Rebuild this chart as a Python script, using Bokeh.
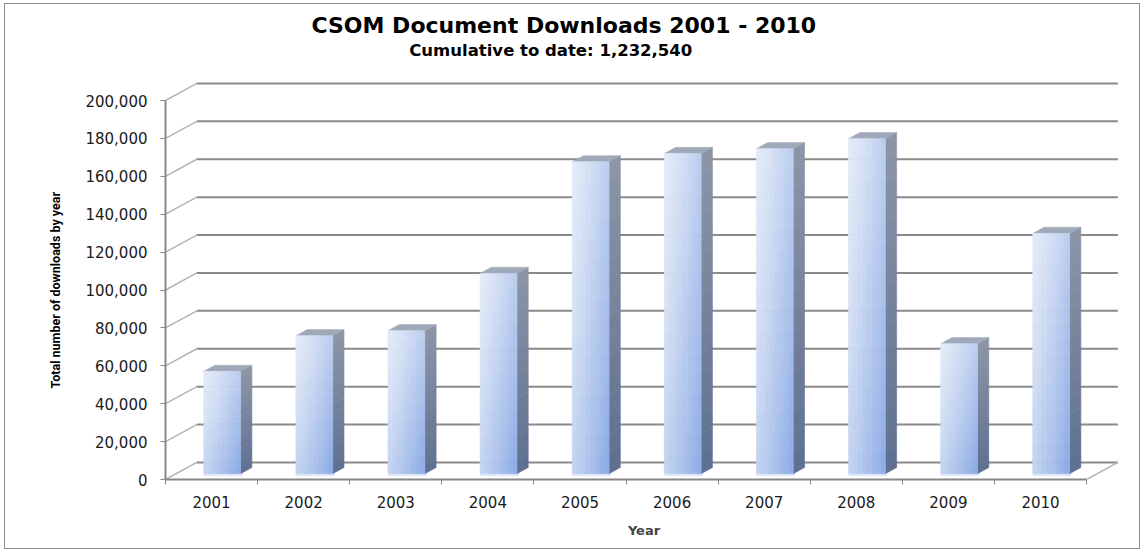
import numpy as np
from bokeh.plotting import figure
from bokeh.models import Range1d, FixedTicker, Label, ColumnDataSource, NumeralTickFormatter, Title
from bokeh.embed import file_html
from bokeh.resources import INLINE
from bokeh.core.properties import value

# ---- data ----
years = ["2001", "2002", "2003", "2004", "2005", "2006", "2007", "2008", "2009", "2010"]
downloads = [54000, 72800, 75500, 105700, 164600, 169000, 171500, 176800, 68600, 126800]
y_ticks = [0, 20000, 40000, 60000, 80000, 100000, 120000, 140000, 160000, 180000, 200000]
title_text = "CSOM Document Downloads  2001 - 2010"
subtitle_text = "Cumulative to date:  1,232,540"
x_label = "Year"
y_label = "Total number of downloads by year"

# ---- 3D geometry (style) ----
DX = 0.34        # depth offset in category units
DY = 9000        # depth offset in value units
F0, F1 = 0.34, 0.70   # bar front / back depth fraction
BAR_W = 0.40
n = len(years)
ymax = y_ticks[-1]

p = figure(width=1136, height=546, output_backend="svg", toolbar_location=None,
           x_range=Range1d(0.5, 10.89), y_range=Range1d(0, 250660),
           min_border_left=160, min_border_right=19, min_border_top=0, min_border_bottom=71)
p.margin = (3, 0, 0, 4)
p.styles = {"border": "1px solid #8c8c8c"}
p.xgrid.visible = False
p.ygrid.visible = False
p.outline_line_color = None
p.background_fill_color = "white"
p.border_fill_color = "white"

# ---- walls / gridlines ----
gx0 = [0.5] * len(y_ticks)
gy0 = list(y_ticks)
gx1 = [0.5 + DX] * len(y_ticks)
gy1 = [v + DY for v in y_ticks]
p.segment(gx0, gy0, gx1, gy1, line_color="#b4b4b4", line_width=1.5)
p.segment(gx1, gy1, [n + 0.5 + DX] * len(y_ticks), gy1, line_color="#8a8a8a", line_width=2)
p.segment([n + 0.5], [0], [n + 0.5 + DX], [DY], line_color="#b4b4b4", line_width=1.5)

# ---- bars ----
light = np.array([228, 235, 248])
dark = np.array([138, 170, 228])
side_top = np.array([140, 150, 167])
side_bot = np.array([94, 111, 145])

def hexc(c):
    c = np.clip(np.round(c), 0, 255).astype(int)
    return "#%02x%02x%02x" % tuple(c)

nx, ny = 8, 16
q = dict(left=[], right=[], bottom=[], top=[], color=[])
sxs, sys_, scol = [], [], []
txs, tys = [], []
lip = dict(left=[], right=[], bottom=[], top=[])
for i, v in enumerate(downloads):
    cx = i + 1
    xl = cx - BAR_W / 2 + F0 * DX
    xr = cx + BAR_W / 2 + F0 * DX
    yb = F0 * DY
    yt = v + F0 * DY
    lip["left"].append(xl); lip["right"].append(xr + 0.02)
    lip["bottom"].append(yb - 1400); lip["top"].append(yb + 300)
    for a in range(nx):
        for b in range(ny):
            u = (a + 0.5) / nx
            h = (b + 0.5) / ny
            t = (0.55 * u + 0.45 * (1 - h)) ** 1.3
            q["left"].append(xl + (xr - xl) * a / nx)
            q["right"].append(xl + (xr - xl) * (a + 1) / nx)
            q["bottom"].append(yb + (yt - yb) * b / ny)
            q["top"].append(yb + (yt - yb) * (b + 1) / ny)
            q["color"].append(hexc(light + (dark - light) * t))
    ddx = (F1 - F0) * DX
    ddy = (F1 - F0) * DY
    for b in range(ny):
        y_lo = yb + (yt - yb) * b / ny
        y_hi = yb + (yt - yb) * (b + 1) / ny
        sxs.append([xr, xr + ddx, xr + ddx, xr])
        sys_.append([y_lo, y_lo + ddy, y_hi + ddy, y_hi])
        h = (b + 0.5) / ny
        scol.append(hexc(side_bot + (side_top - side_bot) * h))
    txs.append([xl, xr, xr + ddx, xl + ddx])
    tys.append([yt, yt, yt + ddy, yt + ddy])

p.quad(source=ColumnDataSource(lip), left="left", right="right", bottom="bottom", top="top",
       fill_color="#e3eaf6", line_color=None)
p.patches(sxs, sys_, fill_color=scol, line_color=scol, line_width=0.6)
p.patches(txs, tys, fill_color="#a0a9b9", line_color="#a0a9b9", line_width=0.5)
p.quad(source=ColumnDataSource(q), left="left", right="right", bottom="bottom", top="top",
       fill_color="color", line_color="color", line_width=0.6)

# ---- axes ----
p.yaxis.ticker = FixedTicker(ticks=y_ticks)
p.yaxis.formatter = NumeralTickFormatter(format="0,0")
p.yaxis.bounds = (0, ymax)
p.yaxis.axis_line_color = "#878787"
p.yaxis.axis_line_width = 2
p.yaxis.major_tick_line_color = "#878787"
p.yaxis.major_tick_out = 5
p.yaxis.major_tick_in = 0
p.yaxis.minor_tick_line_color = None
p.yaxis.major_label_standoff = 13
p.yaxis.major_label_text_font = "DejaVu Sans"
p.yaxis.major_label_text_font_size = "15px"
p.yaxis.major_label_text_color = "#1a1a1a"

# y axis title placed along the value span (left panel, outside the axis)
p.add_layout(Title(text=y_label, align="left", offset=91, text_font="Roboto",
                   text_font_style="bold", text_font_size="12.5px", text_color="black",
                   standoff=40), "left")

p.xaxis.ticker = FixedTicker(ticks=list(range(1, n + 1)),
                             minor_ticks=[k + 0.5 for k in range(n + 1)])
p.xaxis.major_label_overrides = {i + 1: years[i] for i in range(n)}
p.xaxis.bounds = (0.5, n + 0.5)
p.xaxis.axis_line_color = "#878787"
p.xaxis.axis_line_width = 2
p.xaxis.major_tick_line_color = None
p.xaxis.major_tick_out = 4
p.xaxis.major_tick_in = 0
p.xaxis.minor_tick_line_color = "#878787"
p.xaxis.minor_tick_out = 5
p.xaxis.minor_tick_in = 0
p.xaxis.major_label_standoff = 11
p.xaxis.major_label_text_font = "DejaVu Sans"
p.xaxis.major_label_text_font_size = "15px"
p.xaxis.major_label_text_color = "#1a1a1a"
p.xaxis.axis_label = x_label
p.xaxis.axis_label_text_font = "DejaVu Sans"
p.xaxis.axis_label_text_font_style = "bold"
p.xaxis.axis_label_text_font_size = "13px"
p.xaxis.axis_label_standoff = 12

# ---- titles ----
p.add_layout(Label(x=4.866, y=239600, text=title_text, text_align="center",
                   text_baseline="middle", text_font="DejaVu Sans", text_font_style="bold",
                   text_font_size="22px", text_color="black"))
p.add_layout(Label(x=4.714, y=226600, text=subtitle_text, text_align="center",
                   text_baseline="middle", text_font="DejaVu Sans", text_font_style="bold",
                   text_font_size="16.5px", text_color="black"))

open("out.html", "w").write(file_html(p, INLINE))
